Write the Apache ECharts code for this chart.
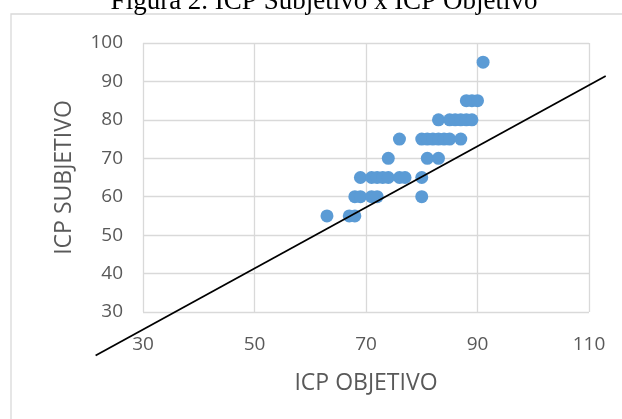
<!DOCTYPE html>
<html>
<head>
<meta charset="utf-8">
<script src="https://cdn.jsdelivr.net/npm/echarts@6/dist/echarts.min.js"></script>
<style>html,body{margin:0;padding:0;background:#fff;}#c{width:622px;height:419px;}</style>
</head>
<body>
<div id="c"></div>
<script>
var titleText = 'Figura 2. ICP Subjetivo x ICP Objetivo';
var xAxisName = 'ICP OBJETIVO';
var yAxisName = 'ICP SUBJETIVO';
var xTicks = [30, 50, 70, 90, 110];
var yTicks = [30, 40, 50, 60, 70, 80, 90, 100];
var icpObjetivo = [63, 67, 68,
  68, 69, 71, 72, 80,
  69, 71, 72, 73, 74, 76, 77, 80,
  74, 81, 83,
  76, 80, 81, 82, 83, 84, 85, 87,
  83, 85, 86, 87, 88, 89,
  88, 89, 90,
  91];
var icpSubjetivo = [55, 55, 55,
  60, 60, 60, 60, 60,
  65, 65, 65, 65, 65, 65, 65, 65,
  70, 70, 70,
  75, 75, 75, 75, 75, 75, 75, 75,
  80, 80, 80, 80, 80, 80,
  85, 85, 85,
  95];
var refLineX = [21.5, 113];
var refLineY = [18.7, 91.4];

var points = icpObjetivo.map(function (x, i) { return [x, icpSubjetivo[i]]; });
var lineSeg = [[refLineX[0], refLineY[0], refLineX[1], refLineY[1]]];

var chart = echarts.init(document.getElementById('c'), null, {renderer: 'canvas'});
var grid = '#D9D9D9';
var tickFont = {color: '#595959', fontSize: 19, fontFamily: 'Open Sans'};
chart.setOption({
  animation: false,
  backgroundColor: '#fff',
  title: {
    text: titleText, left: 324, textAlign: 'center', top: -12, padding: 0,
    textStyle: {fontFamily: 'Liberation Serif', fontWeight: 'normal', fontSize: 27, color: '#000'}
  },
  graphic: [{
    type: 'rect', z: -1, silent: true,
    shape: {x: 11, y: 14, width: 700, height: 500},
    style: {fill: '#fff', stroke: grid, lineWidth: 1.3}
  }],
  grid: {left: 143, top: 43, right: 33, bottom: 107},
  xAxis: {
    type: 'value', min: xTicks[0], max: xTicks[xTicks.length - 1], interval: 20,
    name: xAxisName, nameLocation: 'middle', nameGap: 60,
    nameTextStyle: {color: '#595959', fontSize: 23, fontFamily: 'Open Sans'},
    axisLine: {show: false}, axisTick: {show: false},
    axisLabel: Object.assign({margin: 23}, tickFont),
    splitLine: {show: true, lineStyle: {color: grid, width: 1.3}}
  },
  yAxis: {
    type: 'value', min: yTicks[0], max: yTicks[yTicks.length - 1], interval: 10,
    name: yAxisName, nameLocation: 'middle', nameGap: 67,
    nameTextStyle: {color: '#595959', fontSize: 23, fontFamily: 'Open Sans'},
    axisLine: {show: false}, axisTick: {show: false},
    axisLabel: Object.assign({margin: 20}, tickFont),
    splitLine: {show: true, lineStyle: {color: grid, width: 1.3}}
  },
  series: [{
    type: 'scatter', data: points, symbolSize: 13,
    itemStyle: {color: '#5B9BD5', opacity: 1}, z: 2
  }, {
    type: 'custom', data: lineSeg, clip: false, z: 3,
    renderItem: function (params, api) {
      var p1 = api.coord([api.value(0), api.value(1)]);
      var p2 = api.coord([api.value(2), api.value(3)]);
      return {
        type: 'line',
        shape: {x1: p1[0], y1: p1[1], x2: p2[0], y2: p2[1]},
        style: {stroke: '#000', lineWidth: 1.8}
      };
    }
  }]
});
</script>
</body>
</html>
